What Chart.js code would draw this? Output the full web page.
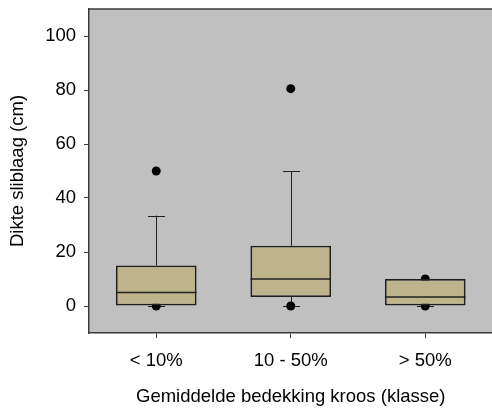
<!DOCTYPE html>
<html>
<head>
<meta charset="utf-8">
<script src="https://cdn.jsdelivr.net/npm/chart.js@4/dist/chart.umd.min.js"></script>
<style>
  html, body { margin: 0; padding: 0; background: #ffffff; overflow: hidden; }
  #wrap { width: 497px; height: 408px; }
</style>
</head>
<body>
<div id="wrap"><canvas id="c" width="497" height="408"></canvas></div>
<script>
// Sludge layer thickness (cm) per duckweed cover class
const categories = ['< 10%', '10 - 50%', '> 50%'];
const q1 = [0, 3.3, 0];
const median = [5, 10, 3.3];
const q3 = [15, 22.3, 10];
const whiskerLow = [0, 0, 0];
const whiskerHigh = [33.5, 50, 10];
const outliers = [[0, 50], [0, 80.5], [0, 10]];
const yTicks = [0, 20, 40, 60, 80, 100];

const FONT = "'Liberation Sans', Arial, sans-serif";
const DARK = '#202020';
const AXIS = '#3a3a3a';

const outlierPoints = [];
outliers.forEach((vals, i) => vals.forEach(v => outlierPoints.push({ x: categories[i], y: v })));

const boxPlotExtras = {
  id: 'boxPlotExtras',
  beforeDraw(chart) {
    const { ctx, chartArea: a } = chart;
    ctx.save();
    ctx.fillStyle = '#c0c0c0';
    ctx.fillRect(a.left, a.top, a.right - a.left, a.bottom - a.top);
    ctx.restore();
  },
  beforeDatasetsDraw(chart) {
    const { ctx, scales: { x, y } } = chart;
    ctx.save();
    ctx.strokeStyle = DARK;
    ctx.lineWidth = 1;
    const cap = 8.5;
    categories.forEach((c, i) => {
      const cx = Math.round(x.getPixelForValue(i)) + 0.5;
      const segs = [[q3[i], whiskerHigh[i]], [q1[i], whiskerLow[i]]];
      segs.forEach(([from, to]) => {
        const y0 = y.getPixelForValue(from), y1 = y.getPixelForValue(to);
        ctx.beginPath();
        ctx.moveTo(cx, y0); ctx.lineTo(cx, y1);
        ctx.moveTo(cx - cap, Math.round(y1) + 0.5); ctx.lineTo(cx + cap, Math.round(y1) + 0.5);
        ctx.stroke();
      });
    });
    ctx.restore();
  },
  afterDatasetsDraw(chart) {
    const { ctx, scales: { y }, chartArea: a } = chart;
    const meta = chart.getDatasetMeta(0);
    ctx.save();
    ctx.strokeStyle = DARK;
    ctx.lineWidth = 1.5;
    meta.data.forEach((bar, i) => {
      const yy = y.getPixelForValue(median[i]);
      ctx.beginPath();
      ctx.moveTo(bar.x - bar.width / 2, yy);
      ctx.lineTo(bar.x + bar.width / 2, yy);
      ctx.stroke();
    });
    // top frame line
    ctx.strokeStyle = AXIS;
    ctx.lineWidth = 1.5;
    ctx.beginPath();
    ctx.moveTo(a.left, a.top);
    ctx.lineTo(a.right, a.top);
    ctx.stroke();
    ctx.restore();
  }
};

new Chart(document.getElementById('c'), {
  data: {
    labels: categories,
    datasets: [
      {
        type: 'bar',
        data: categories.map((_, i) => [q1[i], q3[i]]),
        backgroundColor: '#beb38b',
        borderColor: DARK,
        borderWidth: 1.8,
        borderSkipped: false,
        barPercentage: 0.6,
        categoryPercentage: 1,
        order: 1
      },
      {
        type: 'line',
        data: outlierPoints,
        showLine: false,
        pointRadius: 4.5,
        pointBackgroundColor: '#000000',
        pointBorderWidth: 0,
        order: 2
      }
    ]
  },
  options: {
    responsive: false,
    animation: false,
    layout: { padding: { top: 9, right: 0, left: 0, bottom: 0 } },
    plugins: { legend: { display: false }, tooltip: { enabled: false } },
    scales: {
      x: {
        type: 'category',
        offset: true,
        grid: { offset: false, drawOnChartArea: false, tickLength: 5, color: AXIS, tickWidth: 1 },
        border: { display: true, color: AXIS, width: 1.5 },
        ticks: { color: '#000', font: { family: FONT, size: 18.5 }, padding: 12, maxRotation: 0 },
        title: { display: true, text: 'Gemiddelde bedekking kroos (klasse)', color: '#000',
                 font: { family: FONT, size: 18.5 }, padding: { top: 8, bottom: 0 } },
        afterFit(s) { s.height = 75; s.paddingLeft = 0; s.paddingRight = 0; }
      },
      y: {
        type: 'linear',
        min: -10,
        max: 110,
        afterBuildTicks(s) { s.ticks = yTicks.map(v => ({ value: v })); },
        grid: { drawOnChartArea: false, tickLength: 5, color: AXIS, tickWidth: 1 },
        border: { display: true, color: AXIS, width: 1.5 },
        ticks: { color: '#000', font: { family: FONT, size: 18.5 }, padding: 8 },
        title: { display: true, text: 'Dikte sliblaag (cm)', color: '#000',
                 font: { family: FONT, size: 18.5 }, padding: { top: 7, bottom: 0 } },
        afterFit(s) { s.width = 89; s.paddingTop = 0; s.paddingBottom = 0; }
      }
    }
  },
  plugins: [boxPlotExtras]
});
</script>
</body>
</html>
